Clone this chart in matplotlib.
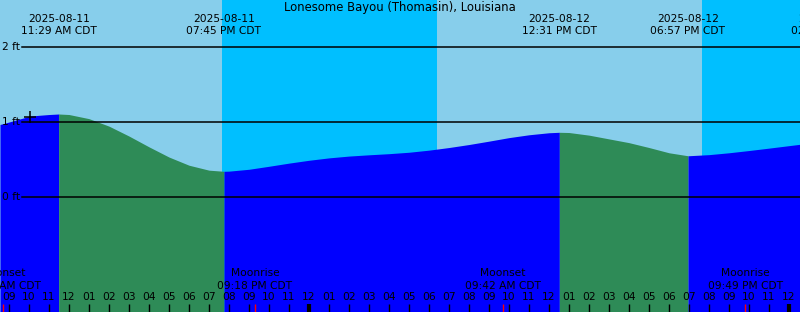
import matplotlib
matplotlib.use("Agg")
import matplotlib.pyplot as plt
import numpy as np

# ---- data (hours since 2025-08-11 00:00 CDT) ----
tide_hours = [8.55, 9.0, 10.0, 10.05, 11.0, 11.483, 12.0, 13.0, 14.0, 15.0, 16.0, 17.0, 18.0, 19.0, 19.75,
              20.0, 21.0, 22.0, 23.0, 24.0, 25.0, 26.0, 27.0, 28.0, 29.0, 30.0, 31.0, 32.0, 33.0, 34.0,
              35.0, 36.0, 36.517, 37.0, 38.0, 39.0, 40.0, 41.0, 42.0, 42.95, 44.0, 45.0, 46.0, 47.0, 48.0, 48.55]
tide_ft = [0.967, 1.00, 1.075, 1.08, 1.10, 1.107, 1.10, 1.045, 0.945, 0.813, 0.669, 0.533, 0.424, 0.358, 0.343,
           0.345, 0.37, 0.41, 0.452, 0.49, 0.522, 0.546, 0.563, 0.578, 0.597, 0.625, 0.66, 0.70, 0.745, 0.792,
           0.83, 0.857, 0.863, 0.86, 0.825, 0.775, 0.725, 0.66, 0.59, 0.55, 0.565, 0.59, 0.62, 0.652, 0.685, 0.703]

# high / low tide events
event_hours = [11.483, 19.75, 36.517, 42.95, 50.0]
event_dates = ["2025-08-11", "2025-08-11", "2025-08-12", "2025-08-12", "2025-08-13"]
event_times = ["11:29 AM CDT", "07:45 PM CDT", "12:31 PM CDT", "06:57 PM CDT", "02:00 AM CDT"]
event_kind = ["H", "L", "H", "L", "H"]

# sunset / sunrise (night spans)
night_start = [19.65, 43.65]
night_end = [30.4, 49.0]

# moon events
moon_hours = [8.7, 21.3, 33.7, 45.82]
moon_names = ["Moonset", "Moonrise", "Moonset", "Moonrise"]
moon_times = ["08:42 AM CDT", "09:18 PM CDT", "09:42 AM CDT", "09:49 PM CDT"]

# current observation marker
now_hour = 10.05
now_ft = 1.067

ref_levels = [0, 1, 2]
ref_labels = ["0 ft", "1 ft", "2 ft"]

title = "Lonesome Bayou (Thomasin), Louisiana"

# ---- styling ----
DAY = "#87CEEB"
NIGHT = "#00BFFF"
RISE = "#0000FF"
FALL = "#2E8B57"
FS = 7.7

x0, x1 = 8.55, 48.55
y0, y1 = -1.533, 2.627

fig = plt.figure(figsize=(8.0, 3.12), dpi=100)
ax = fig.add_axes([0, 0, 1, 1])
ax.set_xlim(x0, x1)
ax.set_ylim(y0, y1)
ax.axis("off")

# background
ax.axvspan(x0, x1, color=DAY, zorder=0, lw=0)
for s, e in zip(night_start, night_end):
    ax.axvspan(s, e, color=NIGHT, zorder=0.5, lw=0)

# tide fill, rising = blue, falling = green
t = np.array(tide_hours)
h = np.array(tide_ft)
bounds = [x0] + [eh for eh in event_hours if x0 < eh < x1] + [x1]
kinds_in = [k for eh, k in zip(event_hours, event_kind) if x0 < eh < x1]
for i in range(len(bounds) - 1):
    a, b = bounds[i], bounds[i + 1]
    if i < len(kinds_in):
        rising = kinds_in[i] == "H"
    else:
        rising = kinds_in[-1] == "L"
    m = (t >= a - 1e-3) & (t <= b + 1e-3)
    ax.fill_between(t[m], y0, h[m], color=RISE if rising else FALL, lw=0, zorder=1)

# reference lines
for lv, lb in zip(ref_levels, ref_labels):
    ax.plot([x0 + 22 / 20, x1], [lv, lv], color="black", lw=1.1, zorder=3)
    ax.text(x0 + 20.5 / 20, lv, lb, ha="right", va="center", fontsize=FS, color="black", zorder=4)

# now marker
ax.plot([now_hour], [now_ft], marker="+", color="black", ms=8, mew=1.1, zorder=4)

# title and event labels
ax.text((x0 + x1) / 2, y1 - 8 / 75, title, ha="center", va="center", fontsize=8.4, zorder=5)
for eh, d, tm in zip(event_hours, event_dates, event_times):
    ax.text(eh, y1 - 19 / 75, d, ha="center", va="center", fontsize=FS, zorder=5)
    ax.text(eh, y1 - 31 / 75, tm, ha="center", va="center", fontsize=FS, zorder=5)

# hour ticks and labels
for hr in range(int(np.ceil(x0)), int(x1) + 1):
    lab = "%02d" % (((hr - 1) % 12) + 1)
    ax.text(hr, y0 + 15 / 75, lab, ha="center", va="center", fontsize=FS, zorder=5)
    midnight = hr % 24 == 0
    ax.plot([hr, hr], [y0, y0 + 8 / 75], color="black", lw=3 if midnight else 1, zorder=5,
            solid_capstyle="butt")

# moon events
for mh, mn, mt in zip(moon_hours, moon_names, moon_times):
    ax.plot([mh, mh], [y0, y0 + 8 / 75], color="red", lw=1, zorder=6, solid_capstyle="butt")
    ax.text(mh, y0 + 39 / 75, mn, ha="center", va="center", fontsize=FS, zorder=5)
    ax.text(mh, y0 + 26 / 75, mt, ha="center", va="center", fontsize=FS, zorder=5)

fig.savefig("out.png", dpi=100)
